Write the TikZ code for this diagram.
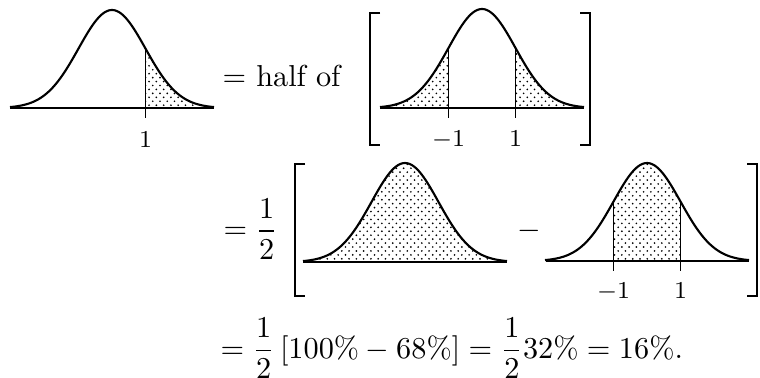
\documentclass[tikz,border=0pt]{standalone}
\usepackage{amsmath}
\usetikzlibrary{patterns}
\pgfdeclarepatternformonly{finedots}{\pgfqpoint{-0.5pt}{-0.5pt}}{\pgfqpoint{2.9pt}{3.1pt}}{\pgfqpoint{2.4pt}{2.6pt}}{
  \pgfpathcircle{\pgfqpoint{0pt}{0pt}}{0.31pt}
  \pgfpathcircle{\pgfqpoint{1.2pt}{1.3pt}}{0.31pt}
  \pgfusepath{fill}
}
\tikzset{
  bell/.style={line width=0.7pt},
  axisline/.style={line width=0.45pt},
  cutline/.style={line width=0.35pt},
  shade/.style={pattern=finedots, pattern color=black},
  brk/.style={line width=0.75pt},
  lbl/.style={font=\footnotesize, inner sep=0pt, anchor=base},
  eqtext/.style={inner sep=0pt, anchor=base west},
}
\begin{document}
\begin{tikzpicture}[x=0.33pt, y=-0.33pt]
\useasboundingbox (0,0) rectangle (760,377);
\def\s{33.5}
% ---------- curve 1 (right tail shaded) ----------
\fill[shade] (145.5,108) -- plot[domain=33.5:100,samples=40] ({112+\x},{108-98*exp(-0.5*(\x/\s)*(\x/\s))}) -- cycle;
\draw[cutline] (145.5,{108-98*exp(-0.5)}) -- (145.5,118);
\draw[axisline] (10,108) -- (214,108);
\draw[bell] plot[domain=-102:102,samples=121] ({112+\x},{108-98*exp(-0.5*(\x/\s)*(\x/\s))});
\node[lbl] (l1) at (145.5,147) {$1$};
% ---------- text line 1 ----------
\node[eqtext] (eq1) at (222,86) {$=$ half of};
% ---------- bracket 1 ----------
\draw[brk] (380,13) -- (370,13) -- (370,145) -- (380,145);
\draw[brk] (580,13) -- (590,13) -- (590,145) -- (580,145);
% ---------- curve 2 (both tails shaded) ----------
\fill[shade] (380,108) -- plot[domain=-102:-33.5,samples=40] ({482+\x},{108-99*exp(-0.5*(\x/\s)*(\x/\s))}) -- (448.5,108) -- cycle;
\fill[shade] (515.5,108) -- plot[domain=33.5:102,samples=40] ({482+\x},{108-99*exp(-0.5*(\x/\s)*(\x/\s))}) -- cycle;
\draw[cutline] (448.5,{108-99*exp(-0.5)}) -- (448.5,118);
\draw[cutline] (515.5,{108-99*exp(-0.5)}) -- (515.5,118);
\draw[axisline] (380,108) -- (584,108);
\draw[bell] plot[domain=-102:102,samples=121] ({482+\x},{108-99*exp(-0.5*(\x/\s)*(\x/\s))});
\node[lbl] (l2a) at (448.5,146) {$-1$};
\node[lbl] (l2b) at (515.5,146) {$1$};
% ---------- text line 2 ----------
\node[eqtext] (eq2) at (223,238.5) {$=\dfrac{1}{2}$};
% ---------- bracket 2 ----------
\draw[brk] (305,164) -- (295,164) -- (295,296) -- (305,296);
\draw[brk] (747,164) -- (757,164) -- (757,296) -- (747,296);
% ---------- curve 3 (all shaded) ----------
\fill[shade] (303,262) -- plot[domain=-102:102,samples=121] ({405+\x},{262-99*exp(-0.5*(\x/\s)*(\x/\s))}) -- cycle;
\draw[axisline] (303,262) -- (507,262);
\draw[bell] plot[domain=-102:102,samples=121] ({405+\x},{262-99*exp(-0.5*(\x/\s)*(\x/\s))});
\node[inner sep=0pt] (minus) at (529,231) {$-$};
% ---------- curve 4 (middle shaded) ----------
\fill[shade] (613.5,261) -- plot[domain=-33.5:33.5,samples=50] ({647+\x},{261-98*exp(-0.5*(\x/\s)*(\x/\s))}) -- (680.5,261) -- cycle;
\draw[cutline] (613.5,{261-98*exp(-0.5)}) -- (613.5,271);
\draw[cutline] (680.5,{261-98*exp(-0.5)}) -- (680.5,271);
\draw[axisline] (546,261) -- (749,261);
\draw[bell] plot[domain=-102:102,samples=121] ({647+\x},{261-98*exp(-0.5*(\x/\s)*(\x/\s))});
\node[lbl] (l4a) at (613.5,298) {$-1$};
\node[lbl] (l4b) at (680.5,298) {$1$};
% ---------- text line 3 ----------
\node[eqtext] (eq3) at (220,358) {$=\dfrac{1}{2}\,[100\%-68\%]=\dfrac{1}{2}32\%=16\%.$};
\end{tikzpicture}
\end{document}
